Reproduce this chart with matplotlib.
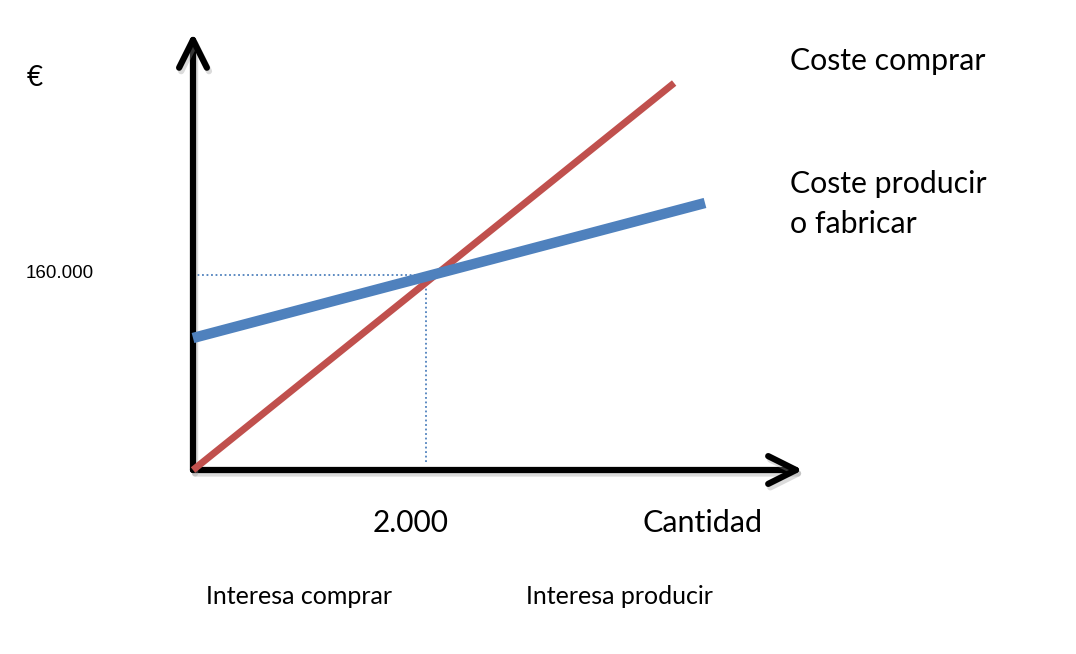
import matplotlib
matplotlib.use("Agg")
import matplotlib.pyplot as plt
import matplotlib.patheffects as pe

# ==============================
# DATA
# ==============================
q_buy = [0, 4130]            # cantidad
cost_buy = [0, 317500]       # coste comprar (EUR)
q_make = [0, 4395]
cost_make = [108300, 219100] # coste producir o fabricar (EUR)
q_even = 2000                # punto muerto
cost_even = 160000
x_axis_end = 5236
y_axis_end = 358600

# ==============================
# LAYOUT
# ==============================
W, H = 1076, 654
ORIGIN_PX = (193, 470)
X_PER_PX = 8.584
Y_PER_PX = 820.5
FONT = "Lato"

fig = plt.figure(figsize=(W / 100, H / 100), dpi=100)
ax = fig.add_axes([0, 0, 1, 1])
ax.set_xlim(-ORIGIN_PX[0] * X_PER_PX, (W - ORIGIN_PX[0]) * X_PER_PX)
ax.set_ylim(-(H - ORIGIN_PX[1]) * Y_PER_PX, ORIGIN_PX[1] * Y_PER_PX)
ax.axis("off")

shadow = [pe.SimpleLineShadow(offset=(1.5, -2.5), shadow_color="0.6", alpha=0.35), pe.Normal()]

# axes with arrows
for end in [(x_axis_end, 0), (0, y_axis_end)]:
    ax.annotate("", xy=end, xytext=(0, 0),
                arrowprops=dict(arrowstyle="->,head_length=1.0,head_width=0.5",
                                mutation_scale=20, lw=4.5, color="black",
                                capstyle="round", joinstyle="round",
                                shrinkA=0, shrinkB=0, path_effects=shadow))

# dotted guides
ax.plot([0, q_even], [cost_even, cost_even], color="#4F81BD", lw=1.3, ls=(0, (1, 1.5)))
ax.plot([q_even, q_even], [0 + 8 * Y_PER_PX, cost_even], color="#4F81BD", lw=1.3, ls=(0, (1, 1.5)))

ax.plot(q_buy, cost_buy, color="#C0504D", lw=5, solid_capstyle="butt", zorder=3)
ax.plot(q_make, cost_make, color="#4F81BD", lw=7.5, solid_capstyle="butt", zorder=4)


def px_text(x, y, s, size, ha="left", family=FONT):
    fig.text(x / W, 1 - y / H, s, fontsize=size, ha=ha, va="center", family=family)


px_text(35, 78, "€", 20, ha="center")
px_text(26, 273, "160.000", 13.5, family="Liberation Sans")
px_text(790, 61, "Coste comprar", 21.8)
px_text(790, 184, "Coste producir", 21.8)
px_text(790, 224, "o fabricar", 21.8)
px_text(411, 523, "2.000", 21.5, ha="center")
px_text(642, 523, "Cantidad", 22)
px_text(206, 596, "Interesa comprar", 18)
px_text(526, 596, "Interesa producir", 18)

fig.savefig("out.png", dpi=100, facecolor="white")
